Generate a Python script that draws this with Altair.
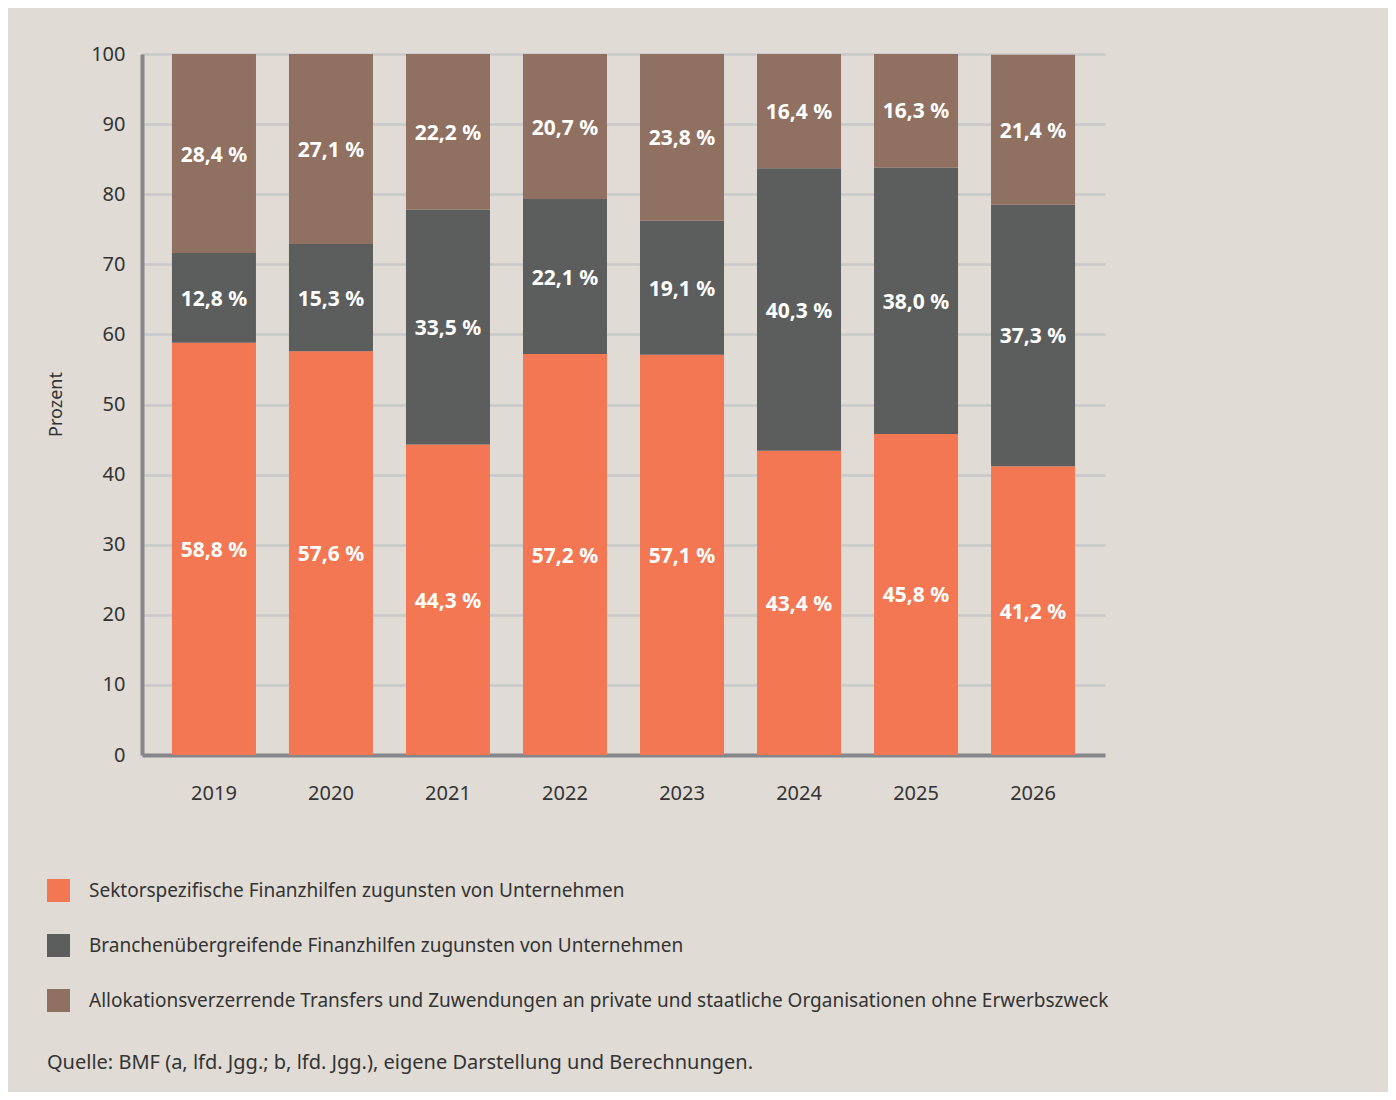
import altair as alt
import pandas as pd

years = ["2019", "2020", "2021", "2022", "2023", "2024", "2025", "2026"]
sektor = [58.8, 57.6, 44.3, 57.2, 57.1, 43.4, 45.8, 41.2]
branche = [12.8, 15.3, 33.5, 22.1, 19.1, 40.3, 38.0, 37.3]
alloc = [28.4, 27.1, 22.2, 20.7, 23.8, 16.4, 16.3, 21.4]
series = [
    "Sektorspezifische Finanzhilfen zugunsten von Unternehmen",
    "Branchenübergreifende Finanzhilfen zugunsten von Unternehmen",
    "Allokationsverzerrende Transfers und Zuwendungen an private und staatliche Organisationen ohne Erwerbszweck",
]
colors = ["#F37752", "#5C5E5E", "#8F7061"]
y_ticks = [0, 10, 20, 30, 40, 50, 60, 70, 80, 90, 100]
source_note = "Quelle: BMF (a, lfd. Jgg.; b, lfd. Jgg.), eigene Darstellung und Berechnungen."

rows = []
for i, yr in enumerate(years):
    for k, (s, vals) in enumerate(zip(series, [sektor, branche, alloc])):
        v = vals[i]
        rows.append({"Jahr": yr, "Reihe": s, "Wert": v, "ord": k,
                     "label": f"{v:.1f}".replace(".", ",") + " %"})
df = pd.DataFrame(rows)

FONT = "Noto Sans"
TXT = "#333333"
AXC = "#86878A"

base = alt.Chart(df).transform_stack(
    stack="Wert", groupby=["Jahr"], as_=["y0", "y1"],
    sort=[alt.SortField("ord", order="ascending")]
).transform_calculate(mid="(datum.y0 + datum.y1) / 2")

xscale = alt.Scale(paddingInner=0.282, paddingOuter=0.256)
xaxis = alt.Axis(domain=True, domainColor=AXC, domainWidth=4, ticks=False,
                 labelFontSize=20, labelColor=TXT, labelFont=FONT, labelPadding=28,
                 labelAngle=0, grid=False, title=None)
yscale = alt.Scale(domain=[0, 100], nice=False, clamp=True)
yaxis = alt.Axis(values=y_ticks, grid=True, gridColor="#C9C9CB", gridWidth=2.5,
                 domain=True, domainColor=AXC, domainWidth=4, ticks=False,
                 labelFontSize=20, labelColor=TXT, labelFont=FONT, labelPadding=17,
                 title="Prozent", titleFontSize=18, titleFontWeight="normal",
                 titleFont=FONT, titleColor=TXT, titleX=-86, titleY=350,
                 titleAngle=-90, titleAlign="center", titleBaseline="middle")

bars = base.mark_bar().encode(
    x=alt.X("Jahr:N", sort=years, scale=xscale, axis=xaxis),
    y=alt.Y("y0:Q", scale=yscale, axis=yaxis),
    y2="y1:Q",
    color=alt.Color("Reihe:N", scale=alt.Scale(domain=series, range=colors),
                    legend=alt.Legend(orient="none", legendX=-95, legendY=825,
                                      direction="vertical", symbolType="square",
                                      symbolSize=529, symbolStrokeWidth=0,
                                      symbolOpacity=1, labelFontSize=19,
                                      labelFont=FONT, labelColor=TXT,
                                      labelLimit=1300, labelOffset=19,
                                      rowPadding=32, title=None, padding=0)),
)

labels = base.mark_text(color="white", fontWeight="bold", fontSize=21, font=FONT, dy=2).encode(
    x=alt.X("Jahr:N", sort=years),
    y=alt.Y("mid:Q"),
    text="label:N",
)

note = alt.Chart(pd.DataFrame({"t": [source_note]})).mark_text(
    align="left", baseline="middle", fontSize=20, font=FONT, color=TXT
).encode(x=alt.value(-95), y=alt.value(1009), text="t:N")

chart = alt.layer(bars, labels, note).properties(
    width=963, height=701,
    autosize=alt.AutoSizeParams(type="none"),
    padding={"left": 134, "top": 46, "right": 283, "bottom": 337},
    background="#E0DBD5",
).configure_view(stroke=None)

chart.save("out.html", embed_options={"renderer": "svg", "actions": False})
